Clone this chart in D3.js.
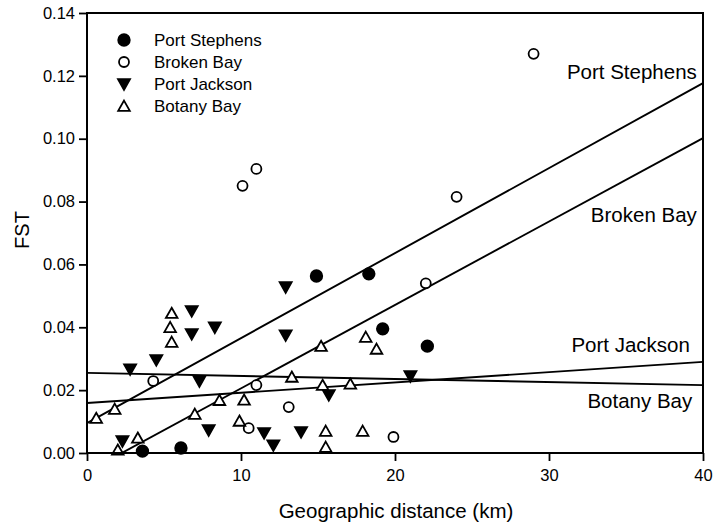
<!DOCTYPE html>
<html>
<head>
<meta charset="utf-8">
<script src="https://cdn.jsdelivr.net/npm/d3@7"></script>
<style>
  body { margin: 0; background: #fff; }
  text { font-family: "Liberation Sans", Arial, sans-serif; fill: #000; }
</style>
</head>
<body>
<div id="chart"></div>
<script>
"use strict";
// series: [distance km, FST]
var portStephens = [[3.6, 0.0006], [6.1, 0.0016], [14.9, 0.0563], [18.3, 0.057], [19.2, 0.0395], [22.1, 0.034]];
var brokenBay = [[4.3, 0.0229], [10.1, 0.085], [11.0, 0.0904], [10.5, 0.0079], [11.0, 0.0216], [13.1, 0.0146],
  [19.9, 0.0051], [22.0, 0.054], [24.0, 0.0815], [29.0, 0.127]];
var portJackson = [[2.3, 0.0038], [2.8, 0.0267], [4.5, 0.0296], [6.8, 0.0452], [6.8, 0.0379], [8.3, 0.040],
  [7.3, 0.0229], [7.9, 0.0073], [11.5, 0.0064], [12.1, 0.0025], [12.9, 0.0528], [12.9, 0.0375],
  [13.9, 0.0067], [15.7, 0.0185], [21.0, 0.0245]];
var botanyBay = [[0.6, 0.0111], [1.8, 0.014], [2.0, 0.001], [3.3, 0.0048], [5.5, 0.0445], [5.4, 0.040],
  [5.5, 0.0353], [7.0, 0.0124], [8.6, 0.0168], [9.9, 0.0102], [10.2, 0.0169], [13.3, 0.0242],
  [15.2, 0.034], [15.3, 0.0216], [15.5, 0.007], [15.5, 0.0019], [17.1, 0.022], [17.9, 0.007],
  [18.1, 0.0369], [18.8, 0.0331]];

var seriesNames = ["Port Stephens", "Broken Bay", "Port Jackson", "Botany Bay"];
var seriesData = [portStephens, brokenBay, portJackson, botanyBay];

// regression lines: FST at 0 km and at 40 km
var fitAt0 = [0.0095, -0.0060, 0.0159, 0.0255];
var fitAt40 = [0.1177, 0.1002, 0.0290, 0.0216];
// where the line labels sit: right end (km) and baseline (FST)
var fitLabelX = [39.6, 39.6, 39.15, 39.3];
var fitLabelY = [0.119, 0.0735, 0.0321, 0.0143];

var xTicks = [0, 10, 20, 30, 40];
var yTicks = [0, 0.02, 0.04, 0.06, 0.08, 0.10, 0.12, 0.14];

var W = 717, H = 532;
var margin = { top: 13, right: 14, bottom: 79, left: 87 };
var w = W - margin.left - margin.right,
  h = H - margin.top - margin.bottom;

var svg = d3.select("#chart").append("svg").attr("width", W).attr("height", H);
var g = svg.append("g").attr("transform", "translate(" + margin.left + "," + margin.top + ")");

var x = d3.scaleLinear().domain([0, 40]).range([0, w]);
var y = d3.scaleLinear().domain([0, 0.14]).range([h, 0]);

g.append("clipPath").attr("id", "plotclip")
  .append("rect").attr("width", w).attr("height", h);

//marker shapes, one per series
function shapePath(i) {
  if (i < 2) return d3.symbol().type(d3.symbolCircle).size(i === 0 ? 105 : 78)();
  if (i === 2) return "M-6,-4.8L6,-4.8L0,5.8Z";
  return "M0,-5.4L5.8,4.8L-5.8,4.8Z";
}
function fillOf(i) { return i % 2 === 0 ? "#000" : "#fff"; }

// regression lines
var lineGen = d3.line().x(function(d) { return x(d[0]); }).y(function(d) { return y(d[1]); });
g.append("g").attr("clip-path", "url(#plotclip)")
  .selectAll("path").data(seriesNames).enter().append("path")
  .attr("d", function(d, i) { return lineGen([[0, fitAt0[i]], [40, fitAt40[i]]]); })
  .attr("fill", "none").attr("stroke", "#000").attr("stroke-width", 1.9);

// points
seriesData.forEach(function(s, i) {
  g.append("g").selectAll("path").data(s).enter().append("path")
    .attr("d", shapePath(i))
    .attr("transform", function(d) { return "translate(" + x(d[0]) + "," + y(d[1]) + ")"; })
    .attr("fill", fillOf(i)).attr("stroke", "#000").attr("stroke-width", 1.8);
});

// line labels
g.selectAll(".fitlabel").data(seriesNames).enter().append("text")
  .attr("class", "fitlabel")
  .attr("x", function(d, i) { return x(fitLabelX[i]); })
  .attr("y", function(d, i) { return y(fitLabelY[i]); })
  .attr("text-anchor", "end")
  .style("font-size", "20.5px")
  .text(function(d) { return d; });

// frame
g.append("rect").attr("width", w).attr("height", h)
  .attr("fill", "none").attr("stroke", "#000").attr("stroke-width", 2);

// axes
var xAxis = g.append("g").attr("transform", "translate(0," + h + ")")
  .call(d3.axisBottom(x).tickValues(xTicks).tickSize(8).tickPadding(8).tickFormat(d3.format("d")));
var yAxis = g.append("g")
  .call(d3.axisLeft(y).tickValues(yTicks).tickSize(8).tickPadding(4).tickFormat(d3.format(".2f")));
[xAxis, yAxis].forEach(function(a) {
  a.select(".domain").remove();
  a.selectAll("line").attr("stroke", "#000").attr("stroke-width", 1.8);
  a.selectAll("text").style("font-size", "16.5px").attr("fill", "#000");
});

// axis titles
svg.append("text").attr("x", margin.left + w / 2 + 1).attr("y", 518)
  .attr("text-anchor", "middle").style("font-size", "20.5px").text("Geographic distance (km)");
svg.append("text").attr("transform", "translate(29," + (margin.top + h / 2 - 3) + ") rotate(-90)")
  .attr("text-anchor", "middle").style("font-size", "20px").text("FST");

// legend
var legend = g.append("g").attr("transform", "translate(37,27)");
seriesNames.forEach(function(name, i) {
  var row = legend.append("g").attr("transform", "translate(0," + i * 22 + ")");
  row.append("path").attr("d", shapePath(i))
    .attr("fill", fillOf(i)).attr("stroke", "#000").attr("stroke-width", 1.8);
  row.append("text").attr("x", 30).attr("y", 6).style("font-size", "17px").text(name);
});
</script>
</body>
</html>
